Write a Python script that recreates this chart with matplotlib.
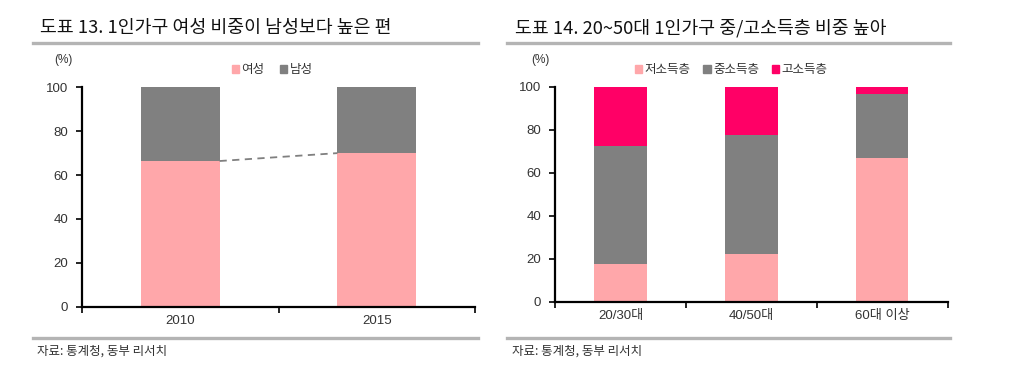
import matplotlib
matplotlib.use("Agg")
import matplotlib.pyplot as plt
from matplotlib.patches import Patch
from matplotlib.lines import Line2D

plt.rcParams['font.family'] = ['Noto Sans CJK KR', 'DejaVu Sans']
TICKFONT = ['Liberation Sans', 'Noto Sans CJK KR']

# Data
years = ['2010', '2015']
female = [66.4, 70.0]
male = [33.6, 30.0]

ages = ['20/30대', '40/50대', '60대 이상']
low_inc = [17.5, 22.2, 66.7]
mid_inc = [55.1, 55.2, 30.1]
high_inc = [27.4, 22.6, 3.2]

PINK = '#FFA7AA'
GRAY = '#808080'
HOT = '#FF0066'
TXT = '#333333'

fig = plt.figure(figsize=(10.24, 3.82), dpi=100)
W, H = 1024, 382

def fx(x): return x / W
def fy(y): return 1 - y / H

# Titles, rules, sources
fig.text(fx(40), fy(28), '도표 13. 1인가구 여성 비중이 남성보다 높은 편', fontsize=13.2,
         color='#111111', va='center', ha='left')
fig.text(fx(515), fy(28), '도표 14. 20~50대 1인가구 중/고소득층 비중 높아', fontsize=13.2,
         color='#111111', va='center', ha='left')
for (x0, x1) in [(33, 478), (507, 950)]:
    fig.add_artist(Line2D([fx(x0), fx(x1)], [fy(43), fy(43)], color='#b4b4b4', lw=2.4))
    fig.add_artist(Line2D([fx(x0), fx(x1)], [fy(338), fy(338)], color='#b4b4b4', lw=2.4))
fig.text(fx(37), fy(351), '자료: 통계청, 동부 리서치', fontsize=9, color=TXT, va='center', ha='left')
fig.text(fx(512), fy(351), '자료: 통계청, 동부 리서치', fontsize=9, color=TXT, va='center', ha='left')
fig.text(fx(63), fy(60), '(%)', fontsize=8.5, color=TXT, va='center', ha='center',
         family=TICKFONT)
fig.text(fx(540), fy(60), '(%)', fontsize=8.5, color=TXT, va='center', ha='center',
         family=TICKFONT)

def style_axes(ax, n, labels):
    ax.set_ylim(0, 100)
    ax.set_xlim(-0.5, n - 0.5)
    ax.set_yticks([0, 20, 40, 60, 80, 100])
    for s in ['top', 'right']:
        ax.spines[s].set_visible(False)
    for s in ['left', 'bottom']:
        ax.spines[s].set_linewidth(1.6)
        ax.spines[s].set_color('black')
    ax.tick_params(axis='y', direction='out', length=4, width=1.2, labelsize=9.5,
                   labelcolor=TXT, pad=6)
    ax.set_xticks([i - 0.5 for i in range(n + 1)])
    ax.set_xticklabels([''] * (n + 1))
    ax.tick_params(axis='x', which='major', direction='out', length=4, width=1.2)
    ax.set_xticks(list(range(n)), minor=True)
    ax.set_xticklabels(labels, minor=True)
    ax.tick_params(axis='x', which='minor', length=0, labelsize=9.5, labelcolor=TXT, pad=6)
    for t in ax.get_yticklabels() + ax.get_xticklabels(minor=True):
        t.set_family(TICKFONT)

# Left chart
ax1 = fig.add_axes([fx(82), fy(306.7), fx(475) - fx(82), fy(87.3) - fy(306.7)])
x1 = list(range(len(years)))
ax1.bar(x1, female, width=0.4, color=PINK, zorder=2)
ax1.bar(x1, male, width=0.4, bottom=female, color=GRAY, zorder=2)
ax1.plot([x1[0] + 0.2, x1[1] - 0.2], [female[0], female[1]], ls=(0, (4, 3)), color=GRAY, lw=1.3, zorder=3)
style_axes(ax1, len(years), years)
ax1.legend(handles=[Patch(color=PINK, label='여성'), Patch(color=GRAY, label='남성')],
           ncol=2, frameon=False, fontsize=9, handlelength=0.6, handleheight=0.6,
           handletextpad=0.2, columnspacing=1.2, loc='center',
           bbox_to_anchor=(fx(272), fy(70)), bbox_transform=fig.transFigure,
           labelcolor=TXT)

# Right chart
ax2 = fig.add_axes([fx(555), fy(302), fx(947.7) - fx(555), fy(86.7) - fy(302)])
x2 = list(range(len(ages)))
b1 = [l + m for l, m in zip(low_inc, mid_inc)]
ax2.bar(x2, low_inc, width=0.4, color=PINK, zorder=2)
ax2.bar(x2, mid_inc, width=0.4, bottom=low_inc, color=GRAY, zorder=2)
ax2.bar(x2, high_inc, width=0.4, bottom=b1, color=HOT, zorder=2)
style_axes(ax2, len(ages), ages)
ax2.legend(handles=[Patch(color=PINK, label='저소득층'), Patch(color=GRAY, label='중소득층'),
                    Patch(color=HOT, label='고소득층')],
           ncol=3, frameon=False, fontsize=9, handlelength=0.6, handleheight=0.6,
           handletextpad=0.2, columnspacing=1.0, loc='center',
           bbox_to_anchor=(fx(731), fy(70)), bbox_transform=fig.transFigure,
           labelcolor=TXT)

fig.savefig('out.png', dpi=100)
